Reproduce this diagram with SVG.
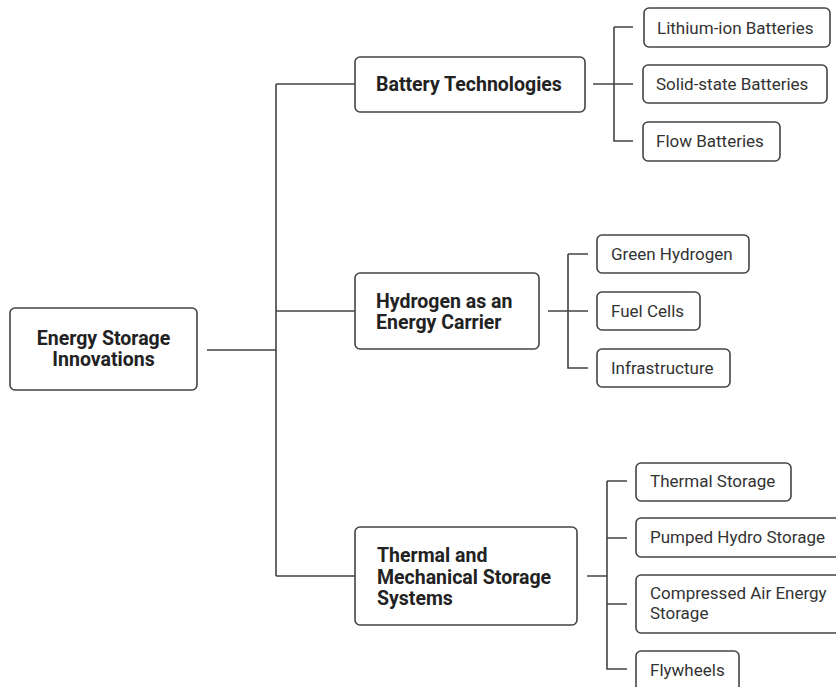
<svg xmlns="http://www.w3.org/2000/svg" width="836" height="687" viewBox="0 0 836 687">
<style>
.box{fill:#fff;stroke:#444;stroke-width:1.6}
.ln{fill:none;stroke:#444;stroke-width:1.6}
.t{font-family:Roboto,"Liberation Sans",sans-serif;font-size:17px;fill:#333;dominant-baseline:central}
.b{font-family:Roboto,"Liberation Sans",sans-serif;font-size:19.5px;font-weight:bold;fill:#222;dominant-baseline:central}
</style>
<rect width="836" height="687" fill="#fff"/>
<g id="connectors">
<path class="ln" d="M207 350H276M276 84V576M276 84H355M276 311H355M276 576H355"/>
<path class="ln" d="M593 84H633M614 27V141H633M614 27H633"/>
<path class="ln" d="M548 311H588M568 254V368H588M568 254H588"/>
<path class="ln" d="M587 576H607M607 481V669H627M607 481H627M607 538H627M607 604H627"/>
</g>
<g id="root"><rect class="box" x="10" y="308" width="187" height="82" rx="5"/>
<text class="b" x="103.5" y="338" text-anchor="middle">Energy Storage</text>
<text class="b" x="103.5" y="359" text-anchor="middle">Innovations</text></g>
<g id="battery"><rect class="box" x="355" y="57" width="230" height="55" rx="5"/>
<text class="b" x="376" y="84">Battery Technologies</text></g>
<g id="hydrogen"><rect class="box" x="355" y="273" width="184" height="76" rx="5"/>
<text class="b" x="376" y="301">Hydrogen as an</text>
<text class="b" x="376" y="322">Energy Carrier</text></g>
<g id="thermal"><rect class="box" x="355" y="527" width="222" height="98" rx="5"/>
<text class="b" x="377" y="555">Thermal and</text>
<text class="b" x="377" y="577">Mechanical Storage</text>
<text class="b" x="377" y="598">Systems</text></g>
<g id="lithium"><rect class="box" x="644" y="8" width="186" height="39" rx="5"/>
<text class="t" x="657" y="27.5">Lithium-ion Batteries</text></g>
<g id="solid"><rect class="box" x="643" y="65" width="184" height="38" rx="5"/>
<text class="t" x="656" y="84">Solid-state Batteries</text></g>
<g id="flow"><rect class="box" x="643" y="122" width="137" height="39" rx="5"/>
<text class="t" x="656" y="141">Flow Batteries</text></g>
<g id="green"><rect class="box" x="597" y="235" width="152" height="38" rx="5"/>
<text class="t" x="611" y="254">Green Hydrogen</text></g>
<g id="fuel"><rect class="box" x="597" y="292" width="103" height="38" rx="5"/>
<text class="t" x="611" y="311">Fuel Cells</text></g>
<g id="infra"><rect class="box" x="597" y="349" width="133" height="38" rx="5"/>
<text class="t" x="611" y="368">Infrastructure</text></g>
<g id="thermalstorage"><rect class="box" x="636" y="463" width="155" height="38" rx="5"/>
<text class="t" x="650" y="481">Thermal Storage</text></g>
<g id="pumped"><rect class="box" x="636" y="518" width="210" height="39" rx="5"/>
<text class="t" x="650" y="537">Pumped Hydro Storage</text></g>
<g id="compressed"><rect class="box" x="636" y="575" width="210" height="58" rx="5"/>
<text class="t" x="650" y="593">Compressed Air Energy</text>
<text class="t" x="650" y="613">Storage</text></g>
<g id="flywheels"><rect class="box" x="636" y="651" width="103" height="50" rx="5"/>
<text class="t" x="650" y="670">Flywheels</text></g>
</svg>
